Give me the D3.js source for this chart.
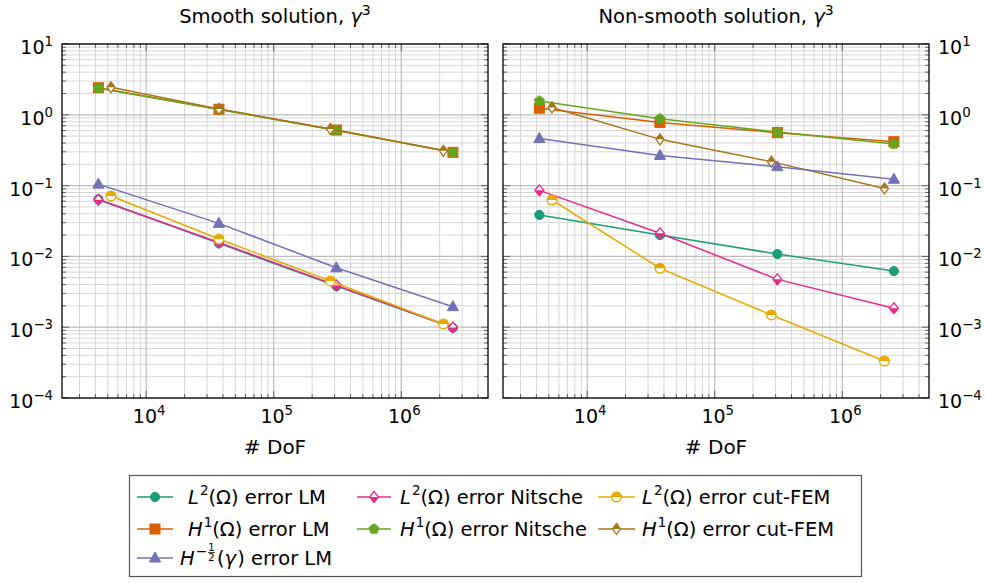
<!DOCTYPE html>
<html><head><meta charset="utf-8">
<script src="https://cdn.jsdelivr.net/npm/d3@7"></script>
<style>
body{margin:0;background:#fff;}
</style></head>
<body><svg id="c" width="985" height="583"></svg>
<script>
// ---- data ----
const panelTitles = ["Smooth solution, ", "Non-smooth solution, "];
const xLabel = "# DoF";
const yTickExps = [-4, -3, -2, -1, 0, 1];
const xTickExps = [4, 5, 6];

// DoF
const dofLM = [4220, 37200, 310000, 2540000];
const dofCut = [5300, 37200, 278000, 2140000];

// Smooth solution
const sL2LM      = [0.064, 0.0153, 0.0038, 0.00098];
const sL2Nit     = [0.063, 0.0157, 0.0039, 0.00099];
const sL2Cut     = [0.0713, 0.0176, 0.0045, 0.00111];
const sH1LM      = [2.41, 1.20, 0.61, 0.295];
const sH1Nit     = [2.37, 1.19, 0.60, 0.297];
const sH1Cut     = [2.45, 1.21, 0.63, 0.31];
const sHm12LM    = [0.105, 0.0293, 0.0069, 0.00195];

// Non-smooth solution
const nL2LM      = [0.0385, 0.0200, 0.0108, 0.0062];
const nL2Nit     = [0.0857, 0.0212, 0.00474, 0.00185];
const nL2Cut     = [0.0626, 0.0068, 0.00149, 0.000333];
const nH1LM      = [1.24, 0.78, 0.56, 0.417];
const nH1Nit     = [1.57, 0.88, 0.57, 0.387];
const nH1Cut     = [1.27, 0.45, 0.218, 0.091];
const nHm12LM    = [0.464, 0.267, 0.185, 0.123];

const seriesColors = ["#1b9e77","#e7298a","#e6ab02","#d95f02","#66a61e","#a6761d","#7570b3"];
const seriesMarks = ["circle","halfdiamond","halfcircle","square","pentagon","halfdiamond2","triangle"];
const seriesDof = ["LM","LM","Cut","LM","LM","Cut","LM"];
const smoothData = [sL2LM, sL2Nit, sL2Cut, sH1LM, sH1Nit, sH1Cut, sHm12LM];
const nonSmoothData = [nL2LM, nL2Nit, nL2Cut, nH1LM, nH1Nit, nH1Cut, nHm12LM];

const FONT = '"DejaVu Sans", "Liberation Sans", sans-serif';

// ---- drawing ----
const svg = d3.select("#c").style("font-family", FONT);
const panels = [
  {x0: 62, x1: 488, data: smoothData, title: panelTitles[0], yLabSide: "left"},
  {x0: 503, x1: 929, data: nonSmoothData, title: panelTitles[1], yLabSide: "right"}
];
const yTop = 44, yBot = 398;

function drawMarker(g, type, x, y, color) {
  const s = g.append("g").attr("transform", `translate(${x},${y})`);
  if (type === "circle") {
    s.append("circle").attr("r", 4.6).attr("fill", color).attr("stroke", color).attr("stroke-width", 1);
  } else if (type === "square") {
    s.append("rect").attr("x", -5).attr("y", -5).attr("width", 10).attr("height", 10)
      .attr("fill", color).attr("stroke", color).attr("stroke-width", 1);
  } else if (type === "triangle") {
    s.append("path").attr("d", "M0,-6 L5.6,4 L-5.6,4 Z").attr("fill", color).attr("stroke", color).attr("stroke-width", 1);
  } else if (type === "pentagon") {
    const pts = d3.range(5).map(i => { const a = -Math.PI/2 + i*2*Math.PI/5; return [5.2*Math.cos(a), 5.2*Math.sin(a)]; });
    s.append("path").attr("d", "M" + pts.map(p => p.join(",")).join("L") + "Z").attr("fill", color).attr("stroke", color).attr("stroke-width", 1);
  } else if (type === "halfcircle") {
    s.append("circle").attr("r", 4.8).attr("fill", "#fff").attr("stroke", color).attr("stroke-width", 1.4);
    s.append("path").attr("d", "M-4.8,0 A4.8,4.8 0 0 1 4.8,0 Z").attr("fill", color);
  } else if (type === "halfdiamond") {
    s.append("path").attr("d", "M0,-5.5 L4.5,0 L0,5.5 L-4.5,0 Z").attr("fill", "#fff").attr("stroke", color).attr("stroke-width", 1.3);
    s.append("path").attr("d", "M-4.5,0 L4.5,0 L0,5.5 Z").attr("fill", color);
  } else if (type === "halfdiamond2") {
    s.append("path").attr("d", "M0,-5.5 L4,0 L0,5.5 L-4,0 Z").attr("fill", "#fff").attr("stroke", color).attr("stroke-width", 1.3);
    s.append("path").attr("d", "M-4,0 L4,0 L0,-5.5 Z").attr("fill", color);
  }
}

function txt(g, x, y, size) {
  return g.append("text").attr("x", x).attr("y", y)
    .style("font-family", FONT).style("font-size", size + "px").attr("fill", "#000");
}

function powLabel(g, x, y, exp, anchor, size) {
  const t = txt(g, x, y, size).attr("text-anchor", anchor);
  t.append("tspan").text("10");
  t.append("tspan").attr("dy", -size*0.42).style("font-size", (size*0.7) + "px").text(exp < 0 ? "\u2212" + (-exp) : exp);
  return t;
}

panels.forEach((p, pi) => {
  const x = d3.scaleLog().domain([Math.pow(10, 3.34), Math.pow(10, 6.68)]).range([p.x0, p.x1]);
  const y = d3.scaleLog().domain([1e-4, 1e1]).range([yBot, yTop]);
  const g = svg.append("g");

  // grid
  const xMinor = [], xMajor = [];
  for (let e = 3; e <= 6; e++) for (let m = 1; m <= 9; m++) {
    const v = m * Math.pow(10, e);
    if (v < x.domain()[0] || v > x.domain()[1]) continue;
    (m === 1 ? xMajor : xMinor).push(v);
  }
  const yMinor = [], yMajor = [];
  for (let e = -4; e <= 1; e++) for (let m = 1; m <= 9; m++) {
    const v = m * Math.pow(10, e);
    if (v < 1e-4 * 0.999 || v > 10 * 1.001) continue;
    (m === 1 ? yMajor : yMinor).push(v);
  }
  g.selectAll(null).data(xMinor).enter().append("line")
    .attr("x1", d => x(d)).attr("x2", d => x(d)).attr("y1", yTop).attr("y2", yBot)
    .attr("stroke", "#d6d6d6").attr("stroke-width", 1);
  g.selectAll(null).data(yMinor).enter().append("line")
    .attr("y1", d => y(d)).attr("y2", d => y(d)).attr("x1", p.x0).attr("x2", p.x1)
    .attr("stroke", "#d6d6d6").attr("stroke-width", 1);
  g.selectAll(null).data(xMajor).enter().append("line")
    .attr("x1", d => x(d)).attr("x2", d => x(d)).attr("y1", yTop).attr("y2", yBot)
    .attr("stroke", "#bdbdbd").attr("stroke-width", 1.2);
  g.selectAll(null).data(yMajor).enter().append("line")
    .attr("y1", d => y(d)).attr("y2", d => y(d)).attr("x1", p.x0).attr("x2", p.x1)
    .attr("stroke", "#bdbdbd").attr("stroke-width", 1.2);

  // ticks (inside, all four sides)
  const tk = (arr, len, horiz) => arr.forEach(v => {
    if (horiz) {
      g.append("line").attr("x1", x(v)).attr("x2", x(v)).attr("y1", yBot).attr("y2", yBot - len).attr("stroke", "#555").attr("stroke-width", 0.9);
      g.append("line").attr("x1", x(v)).attr("x2", x(v)).attr("y1", yTop).attr("y2", yTop + len).attr("stroke", "#555").attr("stroke-width", 0.9);
    } else {
      g.append("line").attr("y1", y(v)).attr("y2", y(v)).attr("x1", p.x0).attr("x2", p.x0 + len).attr("stroke", "#555").attr("stroke-width", 0.9);
      g.append("line").attr("y1", y(v)).attr("y2", y(v)).attr("x1", p.x1).attr("x2", p.x1 - len).attr("stroke", "#555").attr("stroke-width", 0.9);
    }
  });
  tk(xMinor, 4, true); tk(xMajor, 7, true); tk(yMinor, 4, false); tk(yMajor, 7, false);

  // series
  p.data.forEach((vals, si) => {
    const dof = seriesDof[si] === "LM" ? dofLM : dofCut;
    const pts = vals.map((v, i) => [dof[i], v]);
    const line = d3.line().x(d => x(d[0])).y(d => y(d[1]));
    g.append("path").datum(pts).attr("d", line).attr("fill", "none")
      .attr("stroke", seriesColors[si]).attr("stroke-width", 1.5);
    pts.forEach(d => drawMarker(g, seriesMarks[si], x(d[0]), y(d[1]), seriesColors[si]));
  });

  // frame
  g.append("rect").attr("x", p.x0).attr("y", yTop).attr("width", p.x1 - p.x0).attr("height", yBot - yTop)
    .attr("fill", "none").attr("stroke", "#000").attr("stroke-width", 1.3);

  // x tick labels
  xTickExps.forEach(e => powLabel(g, x(Math.pow(10, e)) + 3, yBot + 25, e, "middle", 19));
  // y tick labels
  yTickExps.forEach(e => {
    if (p.yLabSide === "left") powLabel(g, p.x0 - 9, y(Math.pow(10, e)) + 10, e, "end", 19);
    else powLabel(g, p.x1 + 9, y(Math.pow(10, e)) + 10, e, "start", 19);
  });

  // x label
  txt(g, (p.x0 + p.x1) / 2, yBot + 56, 20).attr("text-anchor", "middle").text(xLabel);

  // title
  const t = txt(g, (p.x0 + p.x1) / 2, 23, 19.5).attr("text-anchor", "middle");
  t.append("tspan").text(p.title);
  t.append("tspan").style("font-style", "italic").text("\u03b3");
  t.append("tspan").attr("dy", -8).style("font-size", "14px").text("3");
});

// ---- legend ----
const legendLabels = [
  [{t:"L", i:true},{t:"2", sup:true},{t:"(\u03a9) error LM"}],
  [{t:"L", i:true},{t:"2", sup:true},{t:"(\u03a9) error Nitsche"}],
  [{t:"L", i:true},{t:"2", sup:true},{t:"(\u03a9) error cut-FEM"}],
  [{t:"H", i:true},{t:"1", sup:true},{t:"(\u03a9) error LM"}],
  [{t:"H", i:true},{t:"1", sup:true},{t:"(\u03a9) error Nitsche"}],
  [{t:"H", i:true},{t:"1", sup:true},{t:"(\u03a9) error cut-FEM"}],
  [{t:"H", i:true},{t:"\u2212", sup:true},{frac:["1","2"]},{t:"("},{t:"\u03b3", i:true},{t:") error LM"}]
];
const lg = svg.append("g");
lg.append("rect").attr("x", 129.5).attr("y", 475.5).attr("width", 732).attr("height", 101)
  .attr("fill", "#fff").attr("stroke", "#555").attr("stroke-width", 1.2);
const colLine = [[137, 173], [357, 391], [598, 635]];
const colText = [188, 400, 642];
const rowY = [497, 529, 558];
const LS = 19.5;
legendLabels.forEach((parts, k) => {
  const c = k % 3, r = Math.floor(k / 3);
  const yy = rowY[r];
  lg.append("line").attr("x1", colLine[c][0]).attr("x2", colLine[c][1]).attr("y1", yy).attr("y2", yy)
    .attr("stroke", seriesColors[k]).attr("stroke-width", 1.5);
  drawMarker(lg, seriesMarks[k], (colLine[c][0] + colLine[c][1]) / 2, yy, seriesColors[k]);
  let cx = k === 6 ? 180 : colText[c];
  const base = yy + 7;
  parts.forEach(pt => {
    if (pt.frac) {
      const fw = 7, fx = cx + 1 + fw / 2;
      txt(lg, fx, base - 14, 10).attr("text-anchor", "middle").text(pt.frac[0]);
      lg.append("line").attr("x1", fx - 3.5).attr("x2", fx + 3.5).attr("y1", base - 12.5).attr("y2", base - 12.5)
        .attr("stroke", "#000").attr("stroke-width", 0.7);
      txt(lg, fx, base - 4, 10).attr("text-anchor", "middle").text(pt.frac[1]);
      cx += fw + 3;
      return;
    }
    const s = txt(lg, cx, pt.sup ? base - 9 : base, pt.sup ? 13.5 : LS).text(pt.t);
    if (pt.i) s.style("font-style", "italic");
    cx += s.node().getComputedTextLength() + (pt.i ? 1 : 0);
  });
});
</script></body></html>
